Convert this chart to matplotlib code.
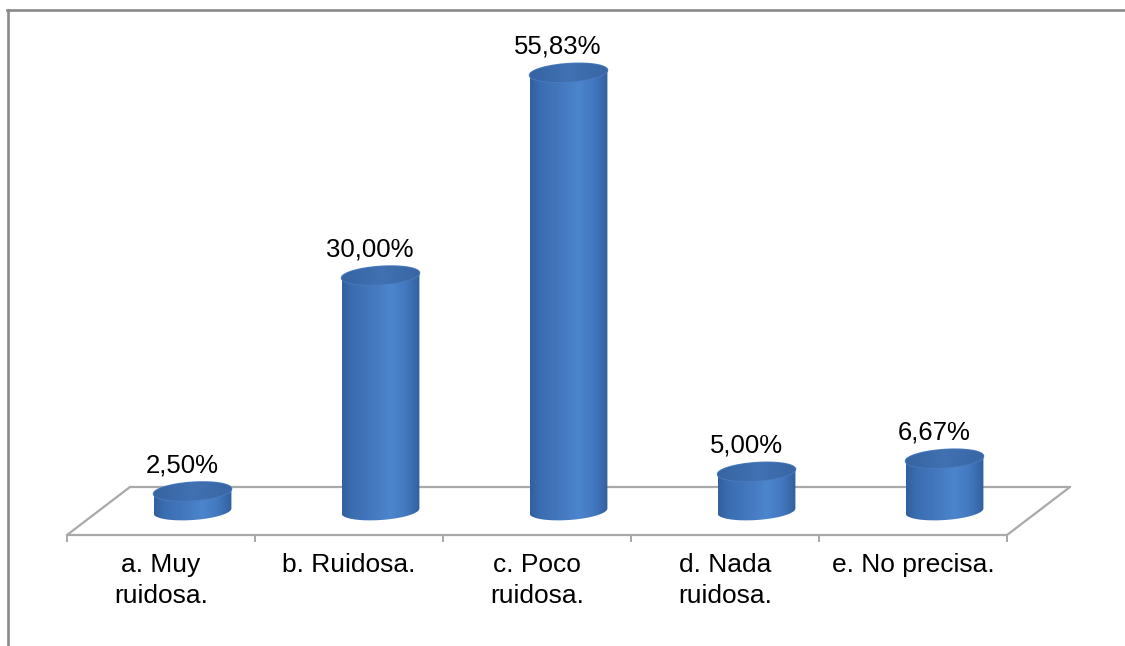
import numpy as np
import matplotlib
matplotlib.use("Agg")
import matplotlib.pyplot as plt
from matplotlib.patches import PathPatch
from matplotlib.path import Path
from matplotlib.colors import LinearSegmentedColormap
from matplotlib.lines import Line2D

# Survey answers and their shares (%)
categories = ["a. Muy\nruidosa.", "b. Ruidosa.", "c. Poco\nruidosa.",
              "d. Nada\nruidosa.", "e. No precisa."]
values = [2.50, 30.00, 55.83, 5.00, 6.67]

plt.rcParams["font.family"] = ["Liberation Sans", "DejaVu Sans"]

W, H, DPI = 1125, 646, 100
fig = plt.figure(figsize=(W / DPI, H / DPI), dpi=DPI, facecolor="white")

# axes: x in category units, y in percent
PX_PER_PCT = 7.85
ax = fig.add_axes([67 / W, 111 / H, 940 / W, 525 / H])
ax.set_xlim(-0.5, len(categories) - 0.5)
ax.set_ylim(0, 525 / PX_PER_PCT)
ax.set_facecolor("none")

# perspective depth of the floor (data units)
DX, DY = 63 / 188, 48 / PX_PER_PCT
floor_col = "#a9a9a9"

# back and side edges of the floor
x0, x1 = -0.5, len(categories) - 0.5
for xs_, ys_ in (([x0 + DX, x1 + DX], [DY, DY]),
                 ([x0, x0 + DX], [0, DY]),
                 ([x1, x1 + DX], [0, DY])):
    ax.plot(xs_, ys_, color=floor_col, lw=1.6, zorder=1, clip_on=False,
            solid_capstyle="round")

# cylinder geometry
R = 0.207            # half width (category units)
E = 1.15             # ellipse half height (percent units)
S = 0.32             # tilt of the ellipses
base = DY / 2

body_cmap = LinearSegmentedColormap.from_list(
    "body", [(0.0, "#325f9d"), (0.12, "#3a6cb0"), (0.45, "#467bc2"),
             (0.62, "#4c86cd"), (0.82, "#4278bf"), (1.0, "#33609e")])
top_cmap = LinearSegmentedColormap.from_list(
    "top", [(0.0, "#3764a2"), (0.5, "#4171b2"), (1.0, "#3966a4")])

t_low = np.linspace(np.pi, 2 * np.pi, 60)
t_up = np.linspace(0, np.pi, 60)
t_all = np.linspace(0, 2 * np.pi, 120)
grad = np.linspace(0, 1, 256).reshape(1, -1)

for i, v in enumerate(values):
    cx = i + DX / 2
    top = base + v
    # silhouette: front arc of the base, back arc of the top
    xs = np.concatenate([cx + R * np.cos(t_low), cx + R * np.cos(t_up)])
    ys = np.concatenate([base + E * np.sin(t_low) + S * np.cos(t_low),
                         top + E * np.sin(t_up) + S * np.cos(t_up)])
    verts = np.column_stack([xs, ys])
    body = PathPatch(Path(np.vstack([verts, verts[:1]]), closed=True),
                     facecolor="none", edgecolor="none", zorder=3)
    ax.add_patch(body)
    im = ax.imshow(grad, cmap=body_cmap, aspect="auto", zorder=3,
                   extent=[cx - R, cx + R, base - E - S, top + E + S],
                   interpolation="bilinear")
    im.set_clip_path(body)

    # top cap
    tx = cx + R * np.cos(t_all)
    ty = top + E * np.sin(t_all) + S * np.cos(t_all)
    cap = PathPatch(Path(np.column_stack([tx, ty]), closed=True),
                    facecolor="none", edgecolor="#4a7cbf", lw=1.2, zorder=4)
    ax.add_patch(cap)
    im2 = ax.imshow(grad, cmap=top_cmap, aspect="auto", zorder=4,
                    extent=[cx - R, cx + R, top - E - S, top + E + S],
                    interpolation="bilinear")
    im2.set_clip_path(cap)

    # value label
    label = f"{v:.2f}%".replace(".", ",")
    ax.annotate(label, xy=(cx, top), xytext=(-7.5, 10),
                textcoords="offset points", ha="center", va="bottom",
                fontsize=18.5, color="black", zorder=5)

ax.set_xlim(-0.5, len(categories) - 0.5)
ax.set_ylim(0, 525 / PX_PER_PCT)

# front edge of the floor acts as the category axis
for side in ("top", "left", "right"):
    ax.spines[side].set_visible(False)
ax.spines["bottom"].set_color(floor_col)
ax.spines["bottom"].set_linewidth(1.6)
ax.spines["bottom"].set_zorder(2)
ax.set_yticks([])
ax.set_xticks(np.arange(-0.5, len(categories)))
ax.set_xticklabels([])
ax.tick_params(axis="x", which="major", direction="out", length=5,
               width=1.4, color=floor_col)
ax.set_xticks(np.arange(len(categories)), minor=True)
ax.set_xticklabels(categories, minor=True, fontsize=19, linespacing=1.35)
ax.tick_params(axis="x", which="minor", length=0, pad=13)

# outer frame (top and left)
fig.add_artist(Line2D([7 / W, 1], [1 - 9.5 / H, 1 - 9.5 / H],
                      color="#8a8a8a", lw=1.9, transform=fig.transFigure))
fig.add_artist(Line2D([8 / W, 8 / W], [0, 1 - 9.5 / H],
                      color="#8a8a8a", lw=1.9, transform=fig.transFigure))

fig.savefig("out.png", dpi=DPI, facecolor="white")
